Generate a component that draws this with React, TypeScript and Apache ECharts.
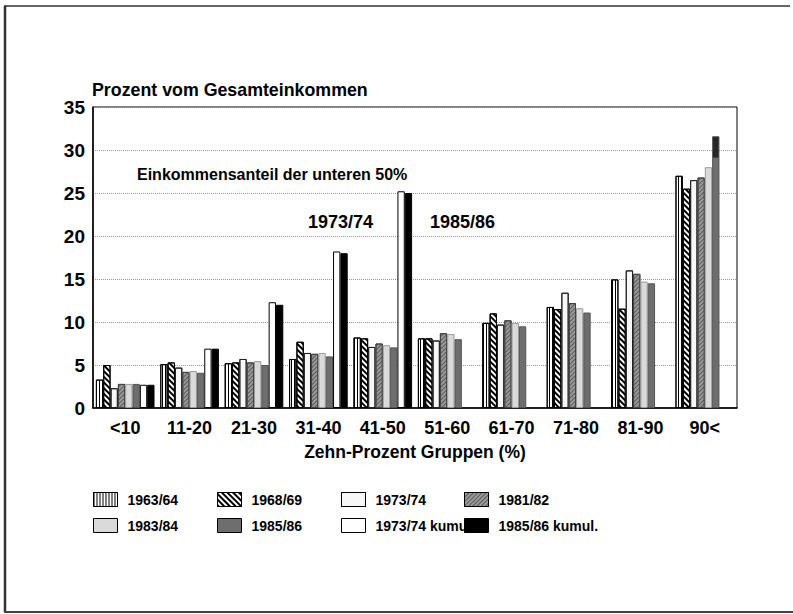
import React, { useEffect, useRef } from "react";
import * as echarts from "echarts";

const categories = ["<10", "11-20", "21-30", "31-40", "41-50", "51-60", "61-70", "71-80", "81-90", "90<"];
const yTicks = [0, 5, 10, 15, 20, 25, 30, 35];

const s6364 = [3.3, 5.1, 5.2, 5.7, 8.2, 8.1, 9.9, 11.75, 14.95, 27.0];
const s6869 = [5.0, 5.3, 5.3, 7.7, 8.1, 8.1, 11.0, 11.5, 11.55, 25.5];
const s7374 = [2.3, 4.7, 5.7, 6.4, 7.1, 7.85, 9.7, 13.4, 16.0, 26.5];
const s8182 = [2.8, 4.2, 5.3, 6.3, 7.5, 8.7, 10.2, 12.2, 15.6, 26.8];
const s8384 = [2.8, 4.3, 5.45, 6.4, 7.3, 8.6, 9.9, 11.6, 14.7, 28.0];
const s8586 = [2.8, 4.1, 5.0, 6.0, 7.05, 8.0, 9.5, 11.1, 14.5, 31.6];
const kum7374 = [2.7, 6.9, 12.3, 18.2, 25.2, null, null, null, null, null];
const kum8586 = [2.7, 6.9, 12.0, 18.0, 25.0, null, null, null, null, null];
// lower edge of the darker top segment of the 1985/86 bar in the last group
const s8586CapFrom = 29.2;

const seriesNames = ["1963/64", "1968/69", "1973/74", "1981/82", "1983/84", "1985/86", "1973/74 kumul", "1985/86 kumul."];

const FONT = "Liberation Sans, Arial, sans-serif";

export default function App() {
  const ref = useRef<HTMLDivElement>(null);
  useEffect(() => {
    if (!ref.current) return;
    const chart = echarts.init(ref.current, null, { renderer: "svg" });

    const frac = (s8586[9] - s8586CapFrom) / s8586[9];
    const data8586 = s8586.map((v, i) =>
      i === 9
        ? {
            value: v,
            itemStyle: {
              color: new echarts.graphic.LinearGradient(0, 0, 0, 1, [
                { offset: 0, color: "#262626" },
                { offset: frac, color: "#262626" },
                { offset: frac + 0.002, color: "#6e6e6e" },
                { offset: 1, color: "#6e6e6e" },
              ]),
            },
          }
        : v
    );

    const styles: any[] = [
      {
        color: "#ffffff",
        borderColor: "#000",
        borderWidth: 1,
        decal: { symbol: "rect", symbolSize: 1, color: "#000", dashArrayX: [1, 1.4], dashArrayY: [1, 0] },
      },
      {
        color: "#ffffff",
        borderColor: "#000",
        borderWidth: 1,
        decal: { symbol: "rect", symbolSize: 1, color: "#000", dashArrayX: [1, 0], dashArrayY: [1.2, 1.6], rotation: Math.PI / 4 },
      },
      {
        color: "#f7f7f7",
        borderColor: "#222",
        borderWidth: 1,
        decal: { symbol: "circle", symbolSize: 0.5, color: "#aaa", dashArrayX: [[1, 3]], dashArrayY: [1, 4] },
      },
      {
        color: "#9a9a9a",
        borderColor: "#444",
        borderWidth: 1,
        decal: { symbol: "rect", symbolSize: 1, color: "#5a5a5a", dashArrayX: [1, 0], dashArrayY: [1, 1.6], rotation: -Math.PI / 4 },
      },
      { color: "#dadada", borderColor: "#9a9a9a", borderWidth: 1 },
      { color: "#6e6e6e", borderColor: "#555", borderWidth: 1 },
      { color: "#ffffff", borderColor: "#000", borderWidth: 1 },
      { color: "#000000", borderColor: "#000", borderWidth: 1 },
    ];
    const datas: any[] = [s6364, s6869, s7374, s8182, s8384, data8586, kum7374, kum8586];

    const series = seriesNames.map((name, i) => ({
      name,
      type: "bar",
      data: datas[i],
      barGap: "0%",
      barCategoryGap: "9%",
      itemStyle: styles[i],
      emphasis: { disabled: true },
    }));

    const legendCol = (names: string[], left: number) => ({
      data: names,
      orient: "vertical",
      left,
      top: 487,
      icon: "rect",
      itemWidth: 24,
      itemHeight: 14,
      itemGap: 11,
      selectedMode: false,
      itemStyle: { borderColor: "#000", borderWidth: 1 },
      textStyle: { fontFamily: FONT, fontWeight: "bold", fontSize: 14, color: "#000", padding: [0, 0, 0, 5] },
    });

    const txt = (text: string, x: number, y: number, size: number) => ({
      type: "text",
      x,
      y,
      style: { text, fill: "#000", font: `bold ${size}px ${FONT}`, textVerticalAlign: "middle" },
    });

    chart.setOption({
      animation: false,
      backgroundColor: "#fff",
      grid: { left: 93, right: 56, top: 107, bottom: 206, show: true, borderColor: "#000", borderWidth: 1 },
      xAxis: {
        type: "category",
        data: categories,
        axisLine: { lineStyle: { color: "#000", width: 1.5 } },
        axisTick: { show: false },
        axisLabel: { fontFamily: FONT, fontWeight: "bold", fontSize: 18, color: "#000", margin: 11 },
        name: "Zehn-Prozent Gruppen (%)",
        nameLocation: "middle",
        nameGap: 35,
        nameTextStyle: { fontFamily: FONT, fontWeight: "bold", fontSize: 17.5, color: "#000", verticalAlign: "top" },
      },
      yAxis: {
        type: "value",
        min: yTicks[0],
        max: yTicks[yTicks.length - 1],
        interval: 5,
        axisLine: { show: true, lineStyle: { color: "#000", width: 1.5 } },
        axisTick: { show: false },
        axisLabel: { fontFamily: FONT, fontWeight: "bold", fontSize: 19, color: "#000", margin: 8 },
        splitLine: { lineStyle: { color: "#999", type: "dotted", width: 1 } },
      },
      legend: [
        legendCol(["1963/64", "1983/84"], 88),
        legendCol(["1968/69", "1985/86"], 212),
        legendCol(["1973/74", "1973/74 kumul"], 336),
        legendCol(["1981/82", "1985/86 kumul."], 459),
      ],
      graphic: [
        { type: "line", shape: { x1: 5, y1: 6, x2: 5, y2: 612 }, style: { stroke: "#333", lineWidth: 2.5 } },
        { type: "line", shape: { x1: 4, y1: 6, x2: 790, y2: 6 }, style: { stroke: "#333", lineWidth: 1.5 } },
        { type: "line", shape: { x1: 4, y1: 612, x2: 793, y2: 612 }, style: { stroke: "#444", lineWidth: 2 } },
        txt("Prozent vom Gesamteinkommen", 92, 90, 17.8),
        txt("Einkommensanteil der unteren 50%", 137, 174, 16),
        txt("1973/74", 308, 222, 18),
        txt("1985/86", 430, 222, 18),
      ],
      series,
    });
    return () => chart.dispose();
  }, []);
  return <div ref={ref} style={{ position: "absolute", left: 0, top: 0, width: 793, height: 614 }} />;
}
